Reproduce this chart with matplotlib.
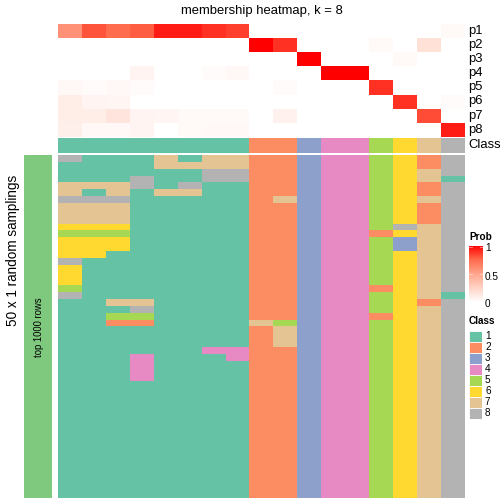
import matplotlib
matplotlib.use('Agg')
import matplotlib.pyplot as pl
import numpy as np
from matplotlib.colors import ListedColormap, LinearSegmentedColormap
from matplotlib.patches import Rectangle

pl.rcParams['font.family'] = ['Liberation Sans', 'DejaVu Sans']

# membership probabilities, 17 samples
row_names = ['p1', 'p2', 'p3', 'p4', 'p5', 'p6', 'p7', 'p8']
prob_p1 = [0.58, 0.80, 0.74, 0.78, 0.93, 0.93, 0.88, 0.85, 0, 0, 0, 0, 0, 0, 0, 0, 0.03]
prob_p2 = [0, 0, 0, 0, 0, 0, 0, 0, 1.0, 0.88, 0, 0, 0, 0.03, 0, 0.17, 0]
prob_p3 = [0, 0, 0, 0, 0, 0, 0, 0, 0, 0, 1.0, 0, 0, 0, 0.03, 0, 0]
prob_p4 = [0, 0, 0, 0.06, 0, 0, 0.02, 0.04, 0, 0, 0, 1.0, 1.0, 0, 0, 0, 0]
prob_p5 = [0.04, 0.02, 0.04, 0.02, 0, 0, 0, 0, 0, 0.02, 0, 0, 0, 0.88, 0, 0, 0]
prob_p6 = [0.10, 0.06, 0.05, 0, 0, 0, 0, 0, 0, 0, 0, 0, 0, 0, 0.88, 0, 0.02]
prob_p7 = [0.10, 0.10, 0.15, 0.06, 0.05, 0.03, 0.03, 0.03, 0, 0.08, 0, 0, 0, 0, 0, 0.82, 0]
prob_p8 = [0.09, 0.04, 0.04, 0.06, 0, 0.03, 0.04, 0.04, 0, 0, 0, 0, 0, 0, 0, 0, 0.93]

class_top = [1, 1, 1, 1, 1, 1, 1, 1, 2, 2, 3, 4, 4, 5, 6, 7, 8]

# class assignment in each of the 50 random samplings (one digit per sample)
sampling_rows = [
    "81117177223445628",
    "11117777223445628",
    "11111188223445678",
    "11181188223445671",
    "77781811223445628",
    "71717711223445628",
    "88811111273445678",
    "77711111223445628",
    "77711111223445628",
    "77711111223445628",
    "66611111223445878",
    "55511111223442678",
    "66611111223445378",
    "66611111223445378",
    "66111111223445678",
    "81111111223445678",
    "61111111223445678",
    "61111111223445678",
    "61111111223445678",
    "51111111223442678",
    "81111111223445671",
    "11771111223445628",
    "11181111223445678",
    "11551111223442678",
    "11221111753445678",
    "11111111273445678",
    "11111111273445678",
    "11111111273445678",
    "11111144223445678",
    "11141114223445678",
    "11141111223445678",
    "11141111223445678",
    "11141111223445678",
    "11111111223445678",
    "11111111223445678",
    "11111111223445678",
    "11111111223445678",
    "11111111223445678",
    "11111111223445678",
    "11111111223445678",
    "11111111223445678",
    "11111111223445678",
    "11111111223445678",
    "11111111223445678",
    "11111111223445678",
    "11111111223445678",
    "11111111223445678",
    "11111111223445678",
    "11111111223445678",
    "11111111223445678",
]

class_labels = ['1', '2', '3', '4', '5', '6', '7', '8']
class_colors = ['#66C2A5', '#FC8D62', '#8DA0CB', '#E78AC3',
                '#A6D854', '#FFD92F', '#E5C494', '#B3B3B3']
prob_ticks = [1, 0.5, 0]

prob = np.array([prob_p1, prob_p2, prob_p3, prob_p4,
                 prob_p5, prob_p6, prob_p7, prob_p8])
samplings = np.array([[int(c) for c in r] for r in sampling_rows])

prob_cmap = LinearSegmentedColormap.from_list(
    'prob', [(0, '#FFFFFF'), (0.25, '#FFD3C6'), (0.5, '#FFA48B'),
             (0.75, '#FF6A4C'), (1, '#FF0000')])
class_cmap = ListedColormap(class_colors)

W = H = 504
fig = pl.figure(figsize=(7, 7), dpi=72)


def add_ax(x0, y0, x1, y1):
    ax = fig.add_axes([x0 / W, 1 - y1 / H, (x1 - x0) / W, (y1 - y0) / H])
    ax.set_axis_off()
    return ax


def px_text(x, y, s, **kw):
    fig.text(x / W, 1 - y / H, s, **kw)


hx0, hx1 = 58, 465

# top membership heatmap
ax = add_ax(hx0, 24, hx1, 136.7)
ax.imshow(prob, cmap=prob_cmap, vmin=0, vmax=1, aspect='auto', interpolation='nearest')
row_h = (136.7 - 24) / 8
for i, name in enumerate(row_names):
    px_text(468, 24 + row_h * (i + 0.5), name, fontsize=13, va='center', ha='left')

# class annotation
ax = add_ax(hx0, 138, hx1, 152.7)
ax.imshow(np.array([class_top]), cmap=class_cmap, vmin=0.5, vmax=8.5,
          aspect='auto', interpolation='nearest')
px_text(468, 145.3, 'Class', fontsize=13, va='center', ha='left')

# samplings heatmap
ax = add_ax(hx0, 155, hx1, 498)
ax.imshow(samplings, cmap=class_cmap, vmin=0.5, vmax=8.5,
          aspect='auto', interpolation='nearest')

# left slice bar
ax = add_ax(24, 155, 52, 498)
ax.add_patch(Rectangle((0, 0), 1, 1, color='#7FC97F', transform=ax.transAxes))
px_text(39, 327, 'top 1000 rows', fontsize=9.5, rotation=90, va='center', ha='center')
px_text(13, 250, '50 x 1 random samplings', fontsize=13.5, rotation=90, va='center', ha='center')

# title
px_text(261.5, 11, 'membership heatmap, k = 8', fontsize=13, va='center', ha='center')

# Prob legend
px_text(469, 237.5, 'Prob', fontsize=10, fontweight='bold', va='center', ha='left')
ax = add_ax(469.3, 245.7, 482.7, 302)
grad = np.linspace(1, 0, 200).reshape(-1, 1)
ax.imshow(grad, cmap=prob_cmap, vmin=0, vmax=1, aspect='auto', extent=[0, 1, 0, 1])
ax.set_xlim(0, 1)
ax.set_ylim(0, 1)
for t in prob_ticks:
    yy = min(max(t, 0.02), 0.98) if t != 0.5 else 0.5
    ax.plot([0, 0.2], [yy, yy], color='white', lw=0.8, alpha=0.6)
    ax.plot([0.8, 1], [yy, yy], color='white', lw=0.8, alpha=0.6)
for t, yl in zip(prob_ticks, [248.3, 276.7, 304]):
    px_text(485, yl, f'{t:g}', fontsize=10, va='center', ha='left')

# Class legend
px_text(469, 321.5, 'Class', fontsize=10, fontweight='bold', va='center', ha='left')
ax = add_ax(469, 330.7, 482, 418.7)
ax.set_xlim(0, 1)
ax.set_ylim(len(class_labels), 0)
for i, (lab, col) in enumerate(zip(class_labels, class_colors)):
    ax.add_patch(Rectangle((0, i), 1, 1, facecolor=col, edgecolor='white', lw=0.8))
    px_text(485, 330.7 + 11 * (i + 0.5), lab, fontsize=10, va='center', ha='left')

fig.savefig('out.png', dpi=72)
